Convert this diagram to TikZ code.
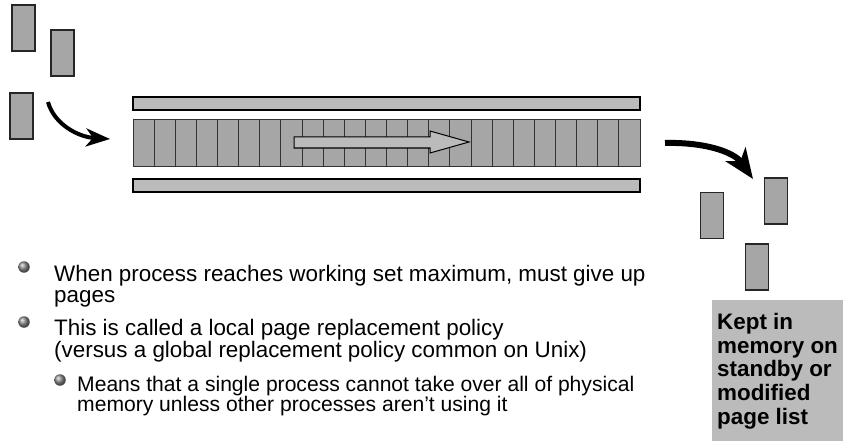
\documentclass[tikz,border=0pt]{standalone}
\usepackage{fontspec}
\setmainfont{Liberation Sans}
\usetikzlibrary{arrows.meta}
\definecolor{pagegray}{RGB}{166,166,166}
\definecolor{bargray}{RGB}{187,187,187}
\definecolor{celledge}{RGB}{50,50,50}
\tikzstyle{pagenode}=[rectangle, draw=black!85, line width=1.2, fill=pagegray, minimum width=23, minimum height=46, inner sep=0]
\tikzstyle{cellbox}=[draw=celledge, line width=1, fill=pagegray]
\tikzstyle{barbox}=[draw=black, line width=2.5, fill=bargray]
\tikzstyle{bigarrow}=[line width=4, -{Stealth[length=24pt, width=18pt, inset=7pt]}]
\tikzstyle{bulletnode}=[circle, inner sep=0, minimum size=11.5, shading=ball, ball color=gray!90]
\tikzstyle{maintext}=[anchor=north west, inner sep=0, align=left, font=\fontsize{22.4}{21.5}\selectfont]
\tikzstyle{subtext}=[anchor=north west, inner sep=0, align=left, font=\fontsize{21.1}{20.5}\selectfont]

\begin{document}
\begin{tikzpicture}[x=1pt, y=-1pt]
  \useasboundingbox (0,0) rectangle (843,441);

  % pages waiting on the left
  \node[pagenode] (in1) at (23.5,28)  {};
  \node[pagenode] (in2) at (62.5,53)  {};
  \node[pagenode] (in3) at (21.5,116) {};

  % working set
  \draw[barbox] (133,97) rectangle (640,110);
  \draw[barbox] (133,179) rectangle (640,192);
  \foreach \i in {0,...,23}
    \draw[cellbox] ({133+21.125*\i},120) rectangle ++(21.125,46);
  \draw[fill=bargray, line width=1] (294,137) -- (430,137) -- (430,131) -- (469,142)
    -- (430,153) -- (430,148) -- (294,148) -- cycle;

  % pages given up on the right
  \node[pagenode] (out1) at (712,215.5) {};
  \node[pagenode] (out2) at (776,201)   {};
  \node[pagenode] (out3) at (757,267)   {};

  \coordinate (inS) at (48,102);
  \coordinate (inE) at (110,139);
  \draw[bigarrow] (inS) .. controls (54,124) and (78,137) .. (inE);
  \coordinate (outS) at (665,143);
  \coordinate (outE) at (753,179);
  \draw[bigarrow, line width=6, -{Stealth[length=30pt, width=24pt, inset=8pt]}]
    (outS) .. controls (705,142) and (734,152) .. (outE);

  % list box
  \node[fill=bargray, anchor=north west, minimum width=131, minimum height=141, inner sep=0] (listbox) at (712,300) {};
  \node[anchor=north west, inner sep=0, align=left, font=\bfseries\fontsize{22.4}{23.7}\selectfont] (listtext) at (717,313)
    {Kept in\\memory on\\standby or\\modified\\page list};

  % bullets
  \node[bulletnode] (b1) at (24,267) {};
  \node[maintext] (t1) at (54,265) {When process reaches working set maximum, must give up\\pages};
  \node[bulletnode] (b2) at (24,322) {};
  \node[maintext] (t2) at (54,319.5) {This is called a local page replacement policy\\(versus a global replacement policy common on Unix)};
  \node[bulletnode] (b3) at (60,380) {};
  \node[subtext] (t3) at (77,376) {Means that a single process cannot take over all of physical\\memory unless other processes aren’t using it};
\end{tikzpicture}
\end{document}
